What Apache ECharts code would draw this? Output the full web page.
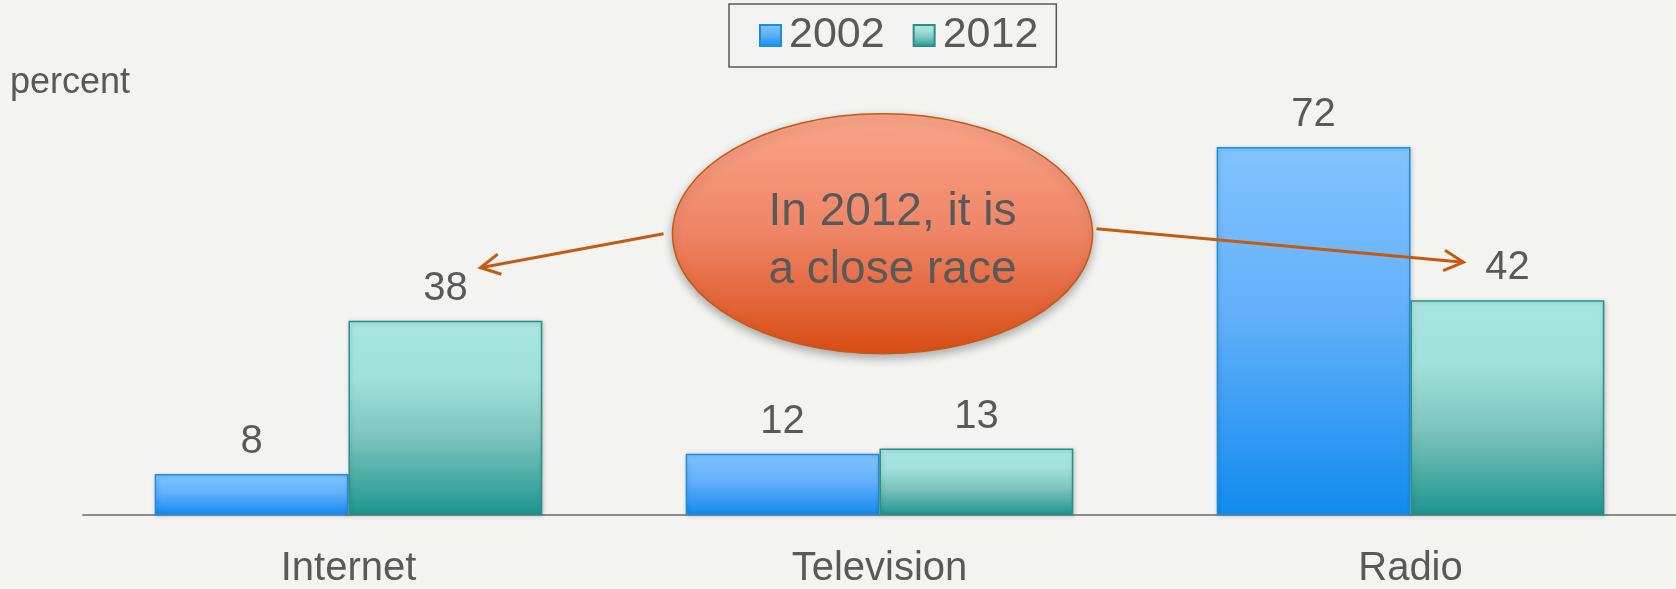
<!DOCTYPE html>
<html>
<head>
<meta charset="utf-8">
<script src="https://cdn.jsdelivr.net/npm/echarts@6/dist/echarts.min.js"></script>
<style>
  html, body { margin: 0; padding: 0; background: #f3f3f2; }
  #chart { width: 1676px; height: 589px; }
</style>
</head>
<body>
<div id="chart"></div>
<script>
// Share of people naming each medium, by survey year
const categories = ['Internet', 'Television', 'Radio'];
const seriesNames = ['2002', '2012'];
const values2002 = [8, 12, 72];
const values2012 = [38, 13, 42];
const calloutLines = ['In 2012, it is', 'a close race'];
const yUnit = 'percent';

const FONT = '"Liberation Sans", Arial, Helvetica, sans-serif';
const TEXT = '#595959';
const ARROW = '#c55a11';
const CATEGORY_GAP = 0.27;

const blueFill = new echarts.graphic.LinearGradient(0, 0, 0, 1, [
  { offset: 0, color: '#80c4ff' },
  { offset: 0.45, color: '#64b0fa' },
  { offset: 1, color: '#118bef' }
]);
const tealFill = new echarts.graphic.LinearGradient(0, 0, 0, 1, [
  { offset: 0, color: '#a8e6e1' },
  { offset: 0.3, color: '#a1e0db' },
  { offset: 0.6, color: '#7ec4be' },
  { offset: 1, color: '#1e958f' }
]);

const chart = echarts.init(document.getElementById('chart'), null, { renderer: 'canvas' });

function barSeries(name, data, fill, border) {
  return {
    name: name,
    type: 'bar',
    data: data,
    barGap: '0%',
    barCategoryGap: (CATEGORY_GAP * 100) + '%',
    itemStyle: {
      color: fill,
      borderColor: border,
      borderWidth: 1.5,
      shadowBlur: 4,
      shadowColor: 'rgba(0,0,0,0.18)',
      shadowOffsetX: 1,
      shadowOffsetY: 1
    },
    label: {
      show: true,
      position: 'top',
      distance: 12,
      color: TEXT,
      fontFamily: FONT,
      fontSize: 40
    },
    emphasis: { disabled: true },
    silent: true
  };
}

chart.setOption({
  backgroundColor: '#f3f3f2',
  animation: false,
  textStyle: { fontFamily: FONT },
  title: {
    text: yUnit,
    left: 5,
    top: 60,
    textStyle: { color: TEXT, fontFamily: FONT, fontSize: 36, fontWeight: 'normal' }
  },
  legend: {
    data: seriesNames,
    left: 729,
    top: 4,
    padding: [10, 18, 10, 30],
    itemWidth: 21,
    itemHeight: 21,
    itemGap: 28,
    borderColor: '#595959',
    borderWidth: 1.5,
    icon: 'rect',
    textStyle: { color: TEXT, fontFamily: FONT, fontSize: 43, padding: [0, 0, 0, 3] },
    selectedMode: false
  },
  grid: { left: 83, right: 0, top: 106, bottom: 73, containLabel: false },
  xAxis: {
    type: 'category',
    data: categories,
    axisLine: { show: true, lineStyle: { color: '#8c8c8c', width: 2 } },
    axisTick: { show: false },
    axisLabel: { color: TEXT, fontFamily: FONT, fontSize: 40, margin: 34 }
  },
  yAxis: {
    type: 'value',
    min: 0,
    max: 80,
    show: false,
    splitLine: { show: false }
  },
  series: [
    barSeries(seriesNames[0], values2002, blueFill, '#1a8fe0'),
    barSeries(seriesNames[1], values2012, tealFill, '#2a8f8a')
  ]
});

// Callout bubble with arrows pointing at the two close 2012 values
function drawCallout() {
  const toPx = (cat, v) => chart.convertToPixel({ gridIndex: 0 }, [cat, v]);
  const center = toPx('Television', 55);
  const rx = 210, ry = 120;
  const cx = center[0] + 3, cy = center[1];

  // half of one bar's width: the 2012 bar sits this far right of the category centre
  const band = toPx(categories[1], 0)[0] - toPx(categories[0], 0)[0];
  const barHalf = band * (1 - CATEGORY_GAP) / 4;

  const netTop = toPx('Internet', values2012[0]);
  const radioTop = toPx('Radio', values2012[2]);
  const leftTip = [netTop[0] + barHalf + 35, netTop[1] - 53];
  const rightTip = [radioTop[0] + barHalf - 44, radioTop[1] - 38];
  const leftStart = [cx - rx - 9, cy];
  const rightStart = [cx + rx + 4, cy - 5];

  function arrow(from, to) {
    const ang = Math.atan2(to[1] - from[1], to[0] - from[0]);
    const len = 22, spread = Math.PI / 6.5;
    const a1 = [to[0] - len * Math.cos(ang - spread), to[1] - len * Math.sin(ang - spread)];
    const a2 = [to[0] - len * Math.cos(ang + spread), to[1] - len * Math.sin(ang + spread)];
    return [
      { type: 'line', shape: { x1: from[0], y1: from[1], x2: to[0], y2: to[1] },
        style: { stroke: ARROW, lineWidth: 3 }, z: 20 },
      { type: 'polyline', shape: { points: [a1, to, a2] },
        style: { stroke: ARROW, lineWidth: 3, fill: null }, z: 20 }
    ];
  }

  chart.setOption({
    graphic: [
      {
        type: 'ellipse',
        shape: { cx: cx, cy: cy, rx: rx, ry: ry },
        style: {
          fill: new echarts.graphic.LinearGradient(0, 0, 0, 1, [
            { offset: 0, color: '#faa58a' },
            { offset: 0.5, color: '#ee8465' },
            { offset: 1, color: '#d94d16' }
          ]),
          stroke: '#c55a11',
          lineWidth: 1.5,
          shadowBlur: 10,
          shadowOffsetY: 4,
          shadowColor: 'rgba(0,0,0,0.3)'
        },
        z: 10
      },
      {
        type: 'text',
        x: cx + 10,
        y: cy + 7,
        style: {
          text: calloutLines.join('\n'),
          fill: TEXT,
          font: '46px ' + FONT,
          align: 'center',
          verticalAlign: 'middle',
          lineHeight: 58
        },
        z: 11
      },
      ...arrow(leftStart, leftTip),
      ...arrow(rightStart, rightTip)
    ]
  });
}
drawCallout();
</script>
</body>
</html>
